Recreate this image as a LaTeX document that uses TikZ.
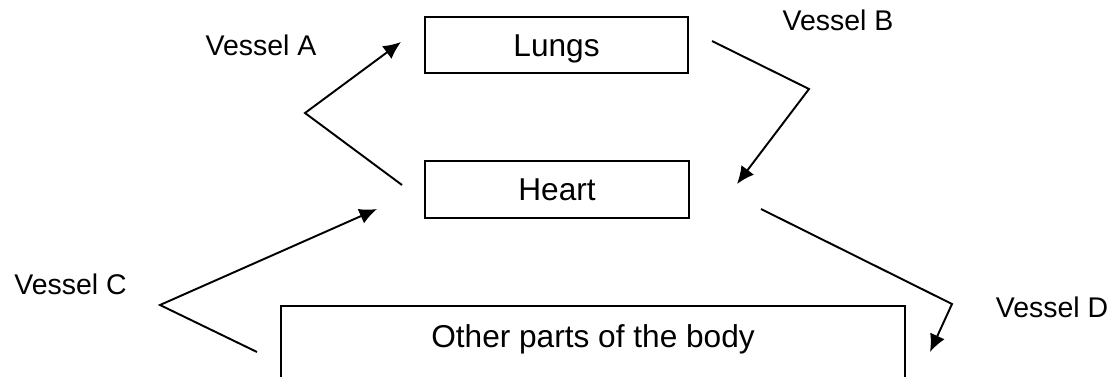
\documentclass[tikz,border=0pt]{standalone}
\usepackage{fontspec}
\setmainfont{Liberation Sans}
\usepackage{tikz}
\usetikzlibrary{arrows.meta}

\begin{document}
\begin{tikzpicture}[
    x=0.02cm, y=-0.02cm,
    organ/.style={draw, line width=1.2pt, minimum width=5.27cm, minimum height=1.13cm, inner sep=0pt,
                  text height=12.9pt, text depth=0pt, font=\fontsize{18}{21}\selectfont},
    vessel/.style={inner sep=0pt, font=\fontsize{16.2}{19}\selectfont},
    flow/.style={line width=1.1pt, -{Latex[length=10pt,width=9pt]}}
]
\useasboundingbox (0,0) rectangle (1119,376);

\node[organ] (lungs) at (556.5,45) {Lungs};
\node[organ] (heart) at (557,189.5) {Heart};
\node[organ, anchor=north, minimum width=12.48cm, minimum height=0pt,
      inner ysep=0.3cm, text height=0.52cm, text depth=1.6cm] (body) at (593,305) {Other parts of the body};

\node[vessel] (va) at (261,45) {Vessel A};
\node[vessel] (vb) at (838,20) {Vessel B};
\node[vessel] (vc) at (70.5,284) {Vessel C};
\node[vessel] (vd) at (1052,307) {Vessel D};

\coordinate (a0) at (402,185);
\coordinate (a1) at (305,113);
\coordinate (a2) at (401,42);
\coordinate (b0) at (712,41);
\coordinate (b1) at (809,89);
\coordinate (b2) at (737,184);
\coordinate (c0) at (257,352);
\coordinate (c1) at (160,305);
\coordinate (c2) at (377,209);
\coordinate (d0) at (761,209);
\coordinate (d1) at (952,304);
\coordinate (d2) at (930,352);

\draw[flow] (a0) -- (a1) -- (a2);
\draw[flow] (b0) -- (b1) -- (b2);
\draw[flow] (c0) -- (c1) -- (c2);
\draw[flow] (d0) -- (d1) -- (d2);
\end{tikzpicture}
\end{document}
